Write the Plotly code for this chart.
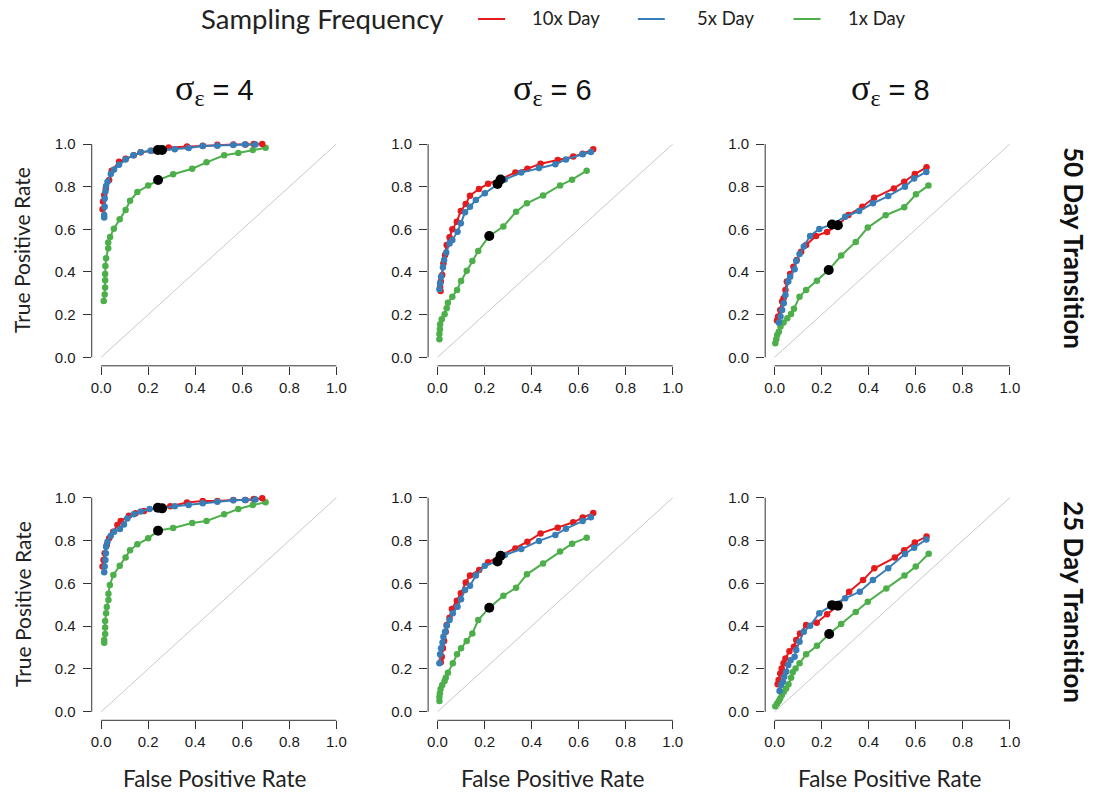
import plotly.graph_objects as go

# ---------------- data ----------------
series_names = ["10x Day", "5x Day", "1x Day"]
series_colors = ["#E41A1C", "#377EB8", "#4DAF4A"]
col_titles = ["4", "6", "8"]
row_titles = ["50 Day Transition", "25 Day Transition"]
tick_vals = [0.0, 0.2, 0.4, 0.6, 0.8, 1.0]
tick_text = ["0.0", "0.2", "0.4", "0.6", "0.8", "1.0"]
diag_x = [0.0, 1.0]
diag_y = [0.0, 1.0]

# ---- 50 day transition, sigma = 4
t50_s4_10x_fpr = [0.006, 0.008, 0.013, 0.020, 0.034, 0.045, 0.076, 0.104, 0.139, 0.168, 0.214, 0.241, 0.287, 0.365, 0.432, 0.494, 0.562, 0.614, 0.649, 0.685]
t50_s4_10x_tpr = [0.694, 0.730, 0.761, 0.792, 0.831, 0.875, 0.917, 0.931, 0.947, 0.961, 0.969, 0.972, 0.984, 0.988, 0.992, 0.997, 0.998, 0.998, 1.000, 1.000]
t50_s4_5x_fpr = [0.013, 0.013, 0.015, 0.015, 0.018, 0.021, 0.027, 0.041, 0.055, 0.076, 0.104, 0.137, 0.168, 0.210, 0.259, 0.313, 0.372, 0.432, 0.494, 0.562, 0.611, 0.656]
t50_s4_5x_tpr = [0.656, 0.667, 0.706, 0.745, 0.777, 0.803, 0.823, 0.859, 0.881, 0.903, 0.928, 0.947, 0.961, 0.969, 0.972, 0.975, 0.981, 0.991, 0.992, 0.995, 0.998, 0.998]
t50_s4_1x_fpr = [0.011, 0.015, 0.017, 0.017, 0.017, 0.018, 0.021, 0.030, 0.030, 0.038, 0.054, 0.079, 0.104, 0.123, 0.154, 0.200, 0.242, 0.306, 0.387, 0.448, 0.523, 0.583, 0.645, 0.699]
t50_s4_1x_tpr = [0.264, 0.294, 0.327, 0.361, 0.391, 0.428, 0.464, 0.511, 0.538, 0.564, 0.603, 0.647, 0.691, 0.734, 0.775, 0.805, 0.831, 0.858, 0.884, 0.914, 0.947, 0.958, 0.972, 0.983]
t50_s4_cut_fpr = [0.241, 0.259, 0.242]
t50_s4_cut_tpr = [0.972, 0.972, 0.831]

# ---- 50 day transition, sigma = 6
t50_s6_10x_fpr = [0.013, 0.011, 0.014, 0.020, 0.025, 0.032, 0.039, 0.051, 0.063, 0.082, 0.099, 0.120, 0.138, 0.176, 0.215, 0.268, 0.331, 0.382, 0.438, 0.511, 0.577, 0.617, 0.662]
t50_s6_10x_tpr = [0.311, 0.331, 0.355, 0.386, 0.441, 0.480, 0.527, 0.563, 0.600, 0.636, 0.686, 0.719, 0.758, 0.789, 0.814, 0.834, 0.867, 0.884, 0.908, 0.925, 0.941, 0.955, 0.975]
t50_s6_5x_fpr = [0.008, 0.011, 0.015, 0.023, 0.028, 0.037, 0.051, 0.063, 0.085, 0.099, 0.117, 0.138, 0.163, 0.201, 0.255, 0.286, 0.356, 0.431, 0.501, 0.546, 0.617, 0.652]
t50_s6_5x_tpr = [0.319, 0.347, 0.378, 0.422, 0.456, 0.491, 0.534, 0.550, 0.589, 0.628, 0.680, 0.706, 0.738, 0.769, 0.813, 0.834, 0.866, 0.888, 0.905, 0.928, 0.952, 0.963]
t50_s6_1x_fpr = [0.008, 0.008, 0.010, 0.011, 0.018, 0.030, 0.039, 0.044, 0.063, 0.083, 0.100, 0.124, 0.148, 0.173, 0.220, 0.280, 0.334, 0.380, 0.449, 0.521, 0.572, 0.634]
t50_s6_1x_tpr = [0.084, 0.109, 0.131, 0.155, 0.178, 0.202, 0.230, 0.256, 0.284, 0.316, 0.358, 0.406, 0.452, 0.498, 0.569, 0.613, 0.683, 0.722, 0.759, 0.806, 0.833, 0.875]
t50_s6_cut_fpr = [0.268, 0.255, 0.220]
t50_s6_cut_tpr = [0.834, 0.813, 0.569]

# ---- 50 day transition, sigma = 8
t50_s8_10x_fpr = [0.010, 0.015, 0.024, 0.032, 0.038, 0.046, 0.052, 0.066, 0.080, 0.094, 0.113, 0.134, 0.176, 0.223, 0.269, 0.314, 0.373, 0.423, 0.507, 0.551, 0.596, 0.646]
t50_s8_10x_tpr = [0.172, 0.191, 0.222, 0.261, 0.277, 0.316, 0.355, 0.391, 0.425, 0.456, 0.495, 0.527, 0.569, 0.588, 0.619, 0.667, 0.706, 0.748, 0.792, 0.823, 0.859, 0.891]
t50_s8_5x_fpr = [0.018, 0.025, 0.032, 0.039, 0.046, 0.058, 0.066, 0.085, 0.092, 0.106, 0.124, 0.151, 0.190, 0.244, 0.300, 0.359, 0.418, 0.483, 0.554, 0.593, 0.645]
t50_s8_5x_tpr = [0.163, 0.191, 0.222, 0.253, 0.292, 0.355, 0.378, 0.413, 0.452, 0.484, 0.519, 0.569, 0.602, 0.623, 0.659, 0.686, 0.722, 0.756, 0.800, 0.838, 0.869]
t50_s8_1x_fpr = [0.003, 0.007, 0.011, 0.018, 0.025, 0.038, 0.054, 0.070, 0.082, 0.106, 0.134, 0.180, 0.230, 0.283, 0.345, 0.396, 0.472, 0.551, 0.601, 0.654]
t50_s8_1x_tpr = [0.066, 0.084, 0.105, 0.120, 0.144, 0.163, 0.183, 0.203, 0.227, 0.284, 0.316, 0.359, 0.409, 0.477, 0.541, 0.608, 0.666, 0.703, 0.764, 0.805]
t50_s8_cut_fpr = [0.269, 0.244, 0.230]
t50_s8_cut_tpr = [0.619, 0.623, 0.409]

# ---- 25 day transition, sigma = 4
t25_s4_10x_fpr = [0.006, 0.010, 0.015, 0.024, 0.034, 0.051, 0.069, 0.083, 0.118, 0.146, 0.182, 0.241, 0.294, 0.365, 0.432, 0.494, 0.562, 0.614, 0.649, 0.685]
t25_s4_10x_tpr = [0.678, 0.709, 0.740, 0.779, 0.810, 0.841, 0.872, 0.891, 0.916, 0.927, 0.938, 0.953, 0.960, 0.977, 0.984, 0.984, 0.989, 0.989, 0.994, 0.997]
t25_s4_5x_fpr = [0.013, 0.015, 0.018, 0.020, 0.021, 0.027, 0.041, 0.055, 0.080, 0.097, 0.111, 0.139, 0.168, 0.206, 0.259, 0.313, 0.372, 0.432, 0.494, 0.562, 0.611, 0.656]
t25_s4_5x_tpr = [0.651, 0.678, 0.709, 0.740, 0.771, 0.794, 0.822, 0.841, 0.854, 0.875, 0.903, 0.922, 0.935, 0.947, 0.950, 0.960, 0.966, 0.974, 0.981, 0.988, 0.989, 0.992]
t25_s4_1x_fpr = [0.013, 0.013, 0.017, 0.017, 0.017, 0.021, 0.024, 0.031, 0.031, 0.037, 0.052, 0.079, 0.104, 0.123, 0.154, 0.200, 0.242, 0.306, 0.387, 0.448, 0.523, 0.583, 0.645, 0.699]
t25_s4_1x_tpr = [0.322, 0.335, 0.363, 0.393, 0.424, 0.460, 0.489, 0.522, 0.551, 0.592, 0.639, 0.682, 0.721, 0.754, 0.782, 0.810, 0.846, 0.858, 0.882, 0.891, 0.922, 0.947, 0.966, 0.978]
t25_s4_cut_fpr = [0.241, 0.259, 0.242]
t25_s4_cut_tpr = [0.953, 0.950, 0.846]

# ---- 25 day transition, sigma = 6
t25_s6_10x_fpr = [0.014, 0.018, 0.023, 0.028, 0.035, 0.039, 0.051, 0.061, 0.082, 0.099, 0.120, 0.138, 0.177, 0.215, 0.268, 0.331, 0.382, 0.438, 0.511, 0.577, 0.617, 0.662]
t25_s6_10x_tpr = [0.231, 0.257, 0.296, 0.330, 0.374, 0.405, 0.439, 0.480, 0.519, 0.553, 0.604, 0.636, 0.662, 0.698, 0.729, 0.763, 0.794, 0.833, 0.860, 0.885, 0.907, 0.928]
t25_s6_5x_fpr = [0.008, 0.011, 0.015, 0.021, 0.025, 0.032, 0.039, 0.051, 0.065, 0.085, 0.100, 0.117, 0.138, 0.163, 0.201, 0.255, 0.286, 0.356, 0.431, 0.501, 0.546, 0.617, 0.652]
t25_s6_5x_tpr = [0.226, 0.268, 0.296, 0.324, 0.350, 0.374, 0.402, 0.428, 0.460, 0.491, 0.526, 0.569, 0.589, 0.636, 0.682, 0.702, 0.732, 0.760, 0.798, 0.826, 0.855, 0.891, 0.908]
t25_s6_1x_fpr = [0.008, 0.008, 0.010, 0.013, 0.020, 0.030, 0.035, 0.044, 0.065, 0.083, 0.100, 0.124, 0.148, 0.173, 0.220, 0.280, 0.334, 0.380, 0.449, 0.521, 0.572, 0.634]
t25_s6_1x_tpr = [0.050, 0.069, 0.086, 0.106, 0.125, 0.143, 0.159, 0.182, 0.226, 0.268, 0.296, 0.330, 0.366, 0.428, 0.486, 0.542, 0.579, 0.642, 0.693, 0.748, 0.785, 0.813]
t25_s6_cut_fpr = [0.268, 0.255, 0.220]
t25_s6_cut_tpr = [0.729, 0.702, 0.486]

# ---- 25 day transition, sigma = 8
t25_s8_10x_fpr = [0.013, 0.017, 0.024, 0.030, 0.038, 0.046, 0.063, 0.082, 0.092, 0.108, 0.134, 0.179, 0.223, 0.269, 0.317, 0.376, 0.424, 0.511, 0.551, 0.596, 0.646]
t25_s8_10x_tpr = [0.128, 0.148, 0.179, 0.202, 0.226, 0.249, 0.283, 0.304, 0.335, 0.366, 0.405, 0.416, 0.455, 0.495, 0.561, 0.615, 0.670, 0.720, 0.754, 0.791, 0.818]
t25_s8_5x_fpr = [0.021, 0.027, 0.035, 0.041, 0.049, 0.058, 0.068, 0.085, 0.092, 0.106, 0.124, 0.151, 0.190, 0.244, 0.300, 0.362, 0.418, 0.483, 0.554, 0.593, 0.645]
t25_s8_5x_tpr = [0.097, 0.125, 0.140, 0.164, 0.187, 0.218, 0.241, 0.257, 0.288, 0.327, 0.374, 0.402, 0.460, 0.498, 0.530, 0.561, 0.615, 0.670, 0.737, 0.766, 0.805]
t25_s8_1x_fpr = [0.003, 0.011, 0.018, 0.024, 0.031, 0.039, 0.049, 0.059, 0.070, 0.077, 0.089, 0.106, 0.134, 0.180, 0.232, 0.283, 0.345, 0.396, 0.475, 0.552, 0.600, 0.655]
t25_s8_1x_tpr = [0.026, 0.039, 0.050, 0.062, 0.078, 0.093, 0.109, 0.128, 0.159, 0.184, 0.202, 0.226, 0.268, 0.308, 0.363, 0.410, 0.466, 0.514, 0.576, 0.636, 0.678, 0.738]
t25_s8_cut_fpr = [0.269, 0.244, 0.232]
t25_s8_cut_tpr = [0.495, 0.498, 0.363]

# table of panels built from the arrays above: (row, col) -> series lists
panels = {
    (0, 0): ([(t50_s4_10x_fpr, t50_s4_10x_tpr), (t50_s4_5x_fpr, t50_s4_5x_tpr), (t50_s4_1x_fpr, t50_s4_1x_tpr)], (t50_s4_cut_fpr, t50_s4_cut_tpr)),
    (0, 1): ([(t50_s6_10x_fpr, t50_s6_10x_tpr), (t50_s6_5x_fpr, t50_s6_5x_tpr), (t50_s6_1x_fpr, t50_s6_1x_tpr)], (t50_s6_cut_fpr, t50_s6_cut_tpr)),
    (0, 2): ([(t50_s8_10x_fpr, t50_s8_10x_tpr), (t50_s8_5x_fpr, t50_s8_5x_tpr), (t50_s8_1x_fpr, t50_s8_1x_tpr)], (t50_s8_cut_fpr, t50_s8_cut_tpr)),
    (1, 0): ([(t25_s4_10x_fpr, t25_s4_10x_tpr), (t25_s4_5x_fpr, t25_s4_5x_tpr), (t25_s4_1x_fpr, t25_s4_1x_tpr)], (t25_s4_cut_fpr, t25_s4_cut_tpr)),
    (1, 1): ([(t25_s6_10x_fpr, t25_s6_10x_tpr), (t25_s6_5x_fpr, t25_s6_5x_tpr), (t25_s6_1x_fpr, t25_s6_1x_tpr)], (t25_s6_cut_fpr, t25_s6_cut_tpr)),
    (1, 2): ([(t25_s8_10x_fpr, t25_s8_10x_tpr), (t25_s8_5x_fpr, t25_s8_5x_tpr), (t25_s8_1x_fpr, t25_s8_1x_tpr)], (t25_s8_cut_fpr, t25_s8_cut_tpr)),
}

# ---------------- layout geometry (pixels) ----------------
W, H = 1096, 796
col_px = [(90.9, 345.4), (427.9, 682.4), (765.6, 1020.1)]
row_px = [(135.5, 365.8), (489.1, 720.3)]
RANGE = [-0.04, 1.04]

TICK_FONT = dict(family="Liberation Sans, Arial, sans-serif", size=15, color="#1a1a1a")
LABEL_FONT = "Lato, 'Open Sans', sans-serif"
AXC = "#333333"

fig = go.Figure()
layout = dict(
    width=W, height=H, margin=dict(l=0, r=0, t=0, b=0),
    paper_bgcolor="white", plot_bgcolor="white", showlegend=False,
    shapes=[], annotations=[],
)

for (r, c), (series, cut) in panels.items():
    idx = r * 3 + c + 1
    xa = "x" if idx == 1 else f"x{idx}"
    ya = "y" if idx == 1 else f"y{idx}"
    xk = "xaxis" if idx == 1 else f"xaxis{idx}"
    yk = "yaxis" if idx == 1 else f"yaxis{idx}"
    x0, x1 = col_px[c]
    yt, yb = row_px[r]
    common = dict(range=RANGE, showgrid=False, zeroline=False, showline=False,
                  ticks="outside", ticklen=8, tickwidth=1, tickcolor=AXC,
                  tickvals=tick_vals, ticktext=tick_text, tickfont=TICK_FONT,
                  fixedrange=True)
    layout[xk] = dict(common, domain=[x0 / W, x1 / W], anchor=ya)
    layout[yk] = dict(common, domain=[1 - yb / H, 1 - yt / H], anchor=xa, ticklabelstandoff=4)
    # R-style axis lines spanning only the tick range
    layout["shapes"].append(dict(type="line", xref=xa, yref=f"{ya} domain", x0=0, x1=1, y0=0, y1=0,
                                 line=dict(color=AXC, width=1)))
    layout["shapes"].append(dict(type="line", xref=f"{xa} domain", yref=ya, x0=0, x1=0, y0=0, y1=1,
                                 line=dict(color=AXC, width=1)))
    # diagonal reference
    fig.add_trace(go.Scatter(x=diag_x, y=diag_y, xaxis=xa, yaxis=ya, mode="lines",
                             line=dict(color="#c8c8c8", width=1), hoverinfo="skip"))
    for k in [2, 0, 1]:
        fx, ty = series[k]
        fig.add_trace(go.Scatter(x=fx, y=ty, xaxis=xa, yaxis=ya, mode="lines+markers",
                                 name=series_names[k],
                                 line=dict(color=series_colors[k], width=2),
                                 marker=dict(color=series_colors[k], size=6.5)))
    fig.add_trace(go.Scatter(x=cut[0], y=cut[1], xaxis=xa, yaxis=ya, mode="markers",
                             marker=dict(color="black", size=10), name="threshold"))

# column titles
col_centers = [214, 553, 891]
for c, t in enumerate(col_titles):
    layout["annotations"].append(dict(
        xref="paper", yref="paper", x=col_centers[c] / W, y=1 - 90 / H,
        text=(f"<span style='font-family:Liberation Serif;font-size:36px'>σ</span>"
              f"<sub><span style='font-family:Liberation Serif;font-size:24px'>ε</span></sub>"
              f" = {t}"),
        showarrow=False, xanchor="center", yanchor="middle",
        font=dict(family="Liberation Sans, Arial", size=29, color="#111")))

# row titles
row_centers = [248, 602]
for r, t in enumerate(row_titles):
    layout["annotations"].append(dict(
        xref="paper", yref="paper", x=1075 / W, y=1 - row_centers[r] / H,
        text=f"<b>{t}</b>", textangle=90, showarrow=False,
        xanchor="center", yanchor="middle",
        font=dict(family=LABEL_FONT, size=26, color="#111")))
    layout["annotations"].append(dict(
        xref="paper", yref="paper", x=21 / W, y=1 - (row_centers[r] + 2) / H,
        text="True Positive Rate", textangle=-90, showarrow=False,
        xanchor="center", yanchor="middle",
        font=dict(family=LABEL_FONT, size=21, color="#222")))

for c in range(3):
    layout["annotations"].append(dict(
        xref="paper", yref="paper", x=col_centers[c] / W, y=1 - 778 / H,
        text="False Positive Rate", showarrow=False, xanchor="center", yanchor="middle",
        font=dict(family=LABEL_FONT, size=22.5, color="#222")))

# legend (drawn as header)
layout["annotations"].append(dict(
    xref="paper", yref="paper", x=198 / W, y=1 - 18 / H, text="Sampling Frequency",
    showarrow=False, xanchor="left", yanchor="middle",
    font=dict(family=LABEL_FONT, size=27.5, color="#222")))
leg_line_x = [478, 638, 794]
leg_text_x = [530, 695, 847]
for k in range(3):
    layout["shapes"].append(dict(type="line", xref="paper", yref="paper",
                                 x0=leg_line_x[k] / W, x1=(leg_line_x[k] + 27) / W,
                                 y0=1 - 19 / H, y1=1 - 19 / H,
                                 line=dict(color=series_colors[k], width=2)))
    layout["annotations"].append(dict(
        xref="paper", yref="paper", x=leg_text_x[k] / W, y=1 - 18 / H, text=series_names[k],
        showarrow=False, xanchor="left", yanchor="middle",
        font=dict(family=LABEL_FONT, size=18.5, color="#222")))

fig.update_layout(**layout)
fig.write_html("out.html")
